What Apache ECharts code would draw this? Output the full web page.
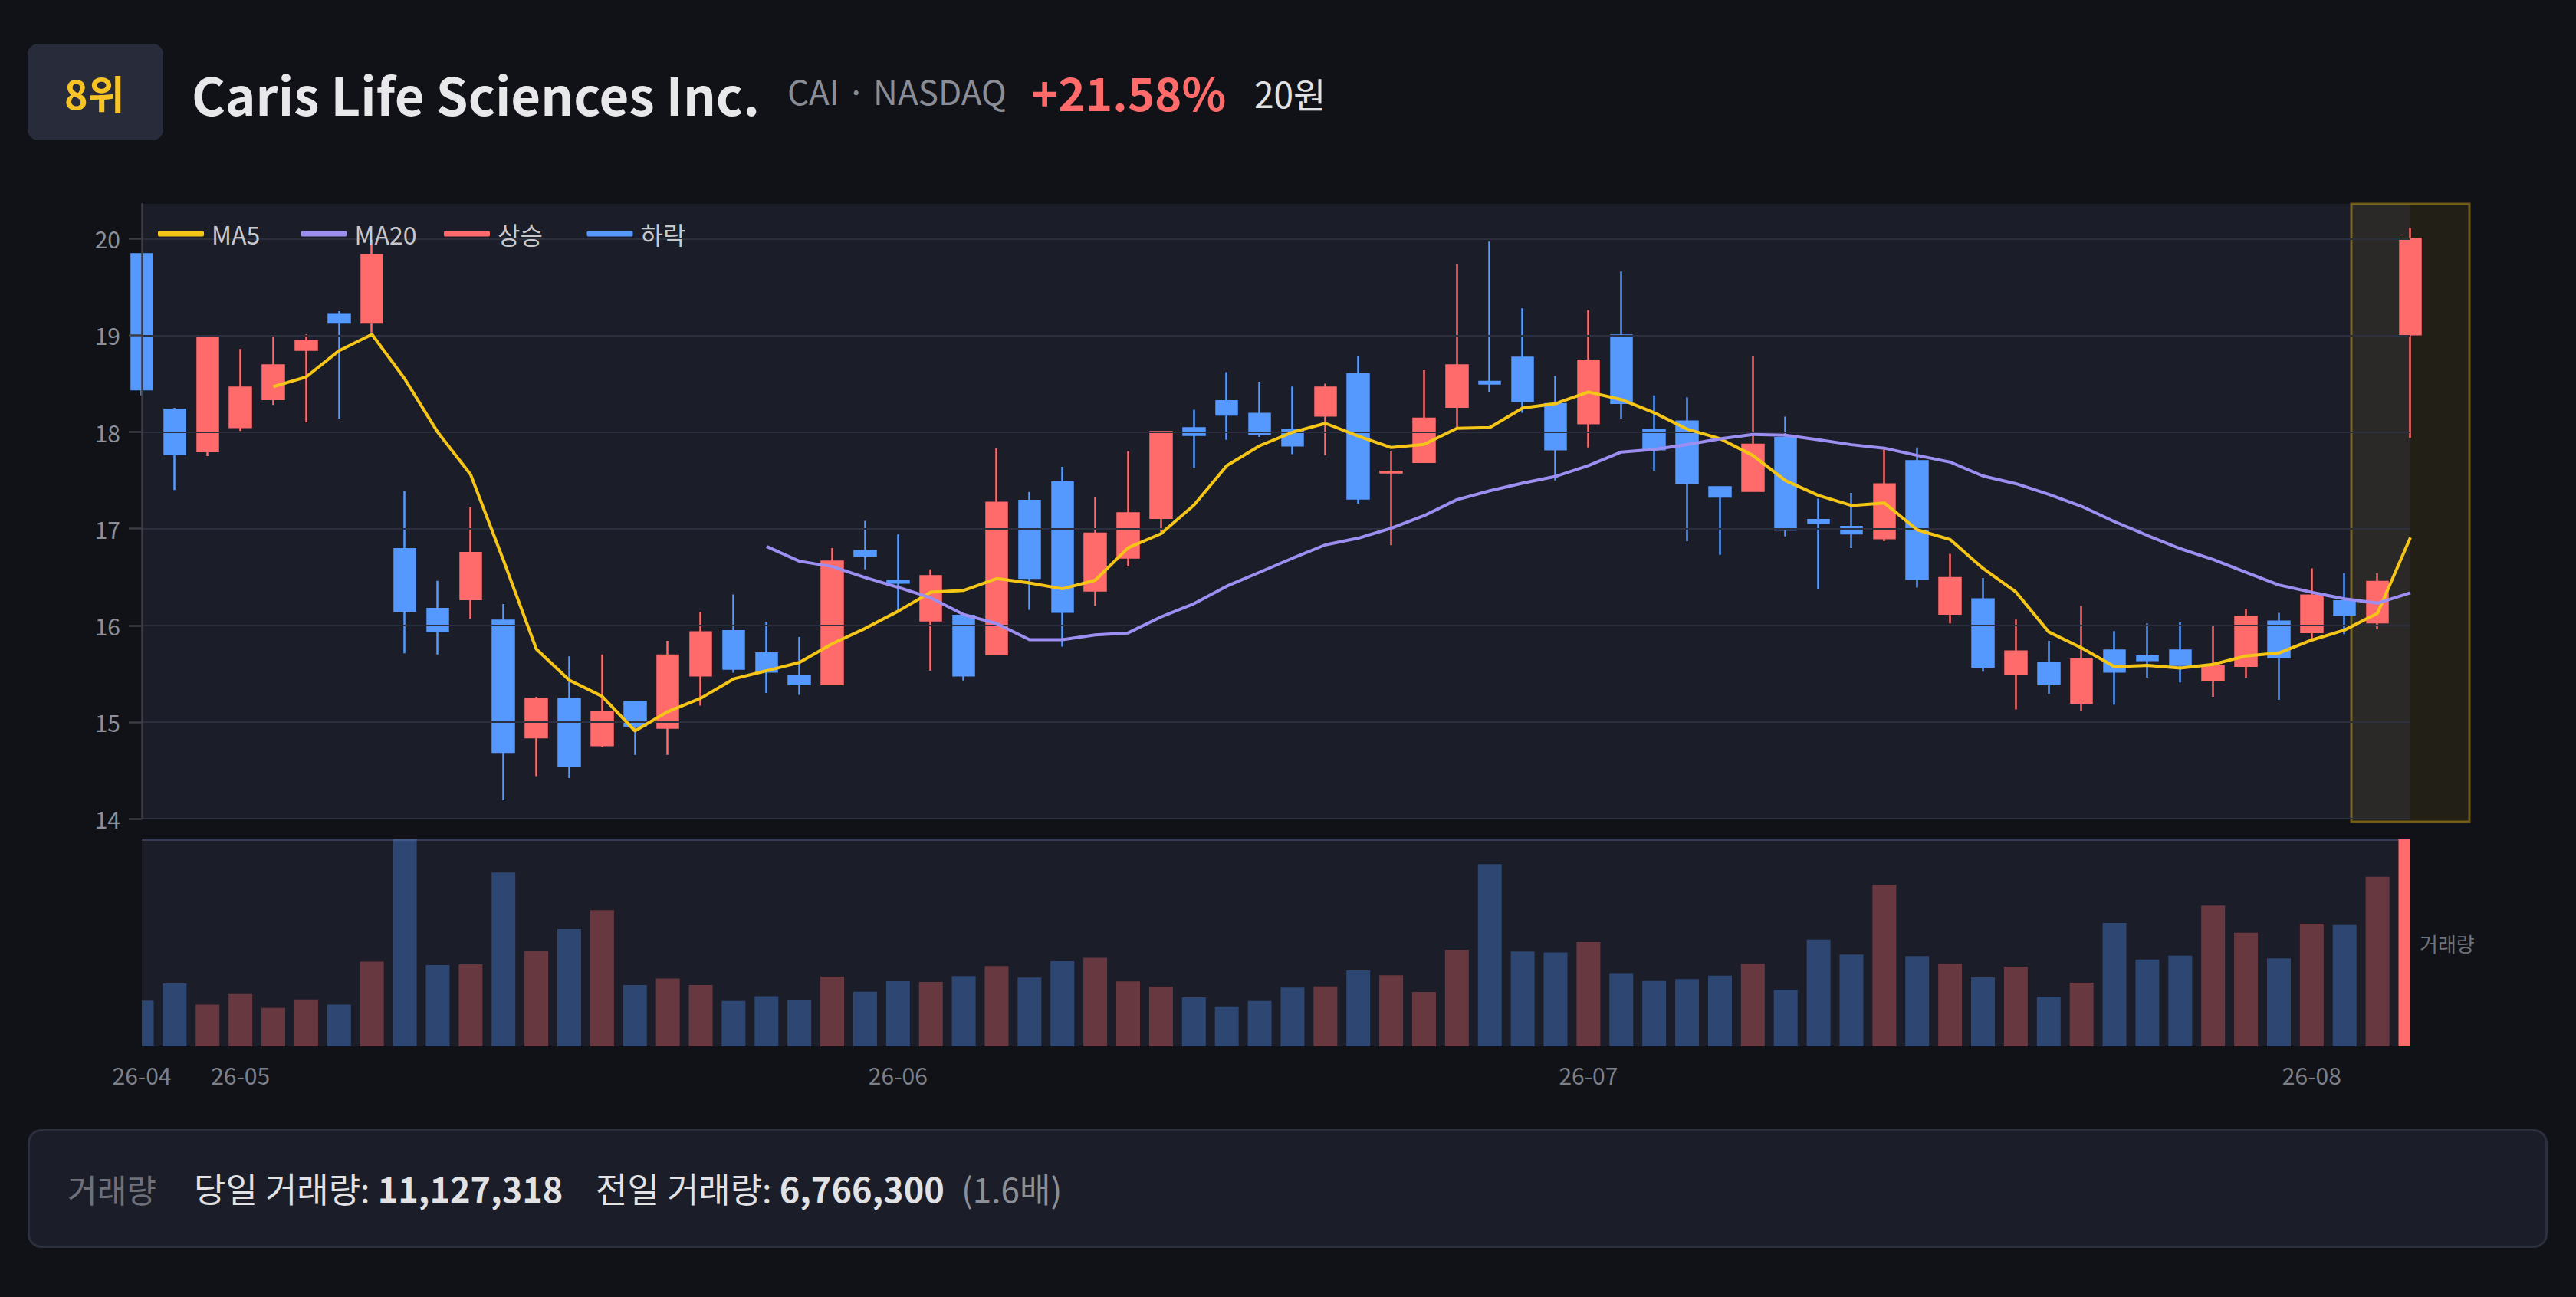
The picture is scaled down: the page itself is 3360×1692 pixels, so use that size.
<!DOCTYPE html>
<html><head><meta charset="utf-8">
<script src="https://cdn.jsdelivr.net/npm/echarts@6/dist/echarts.min.js"></script>
<style>
html,body{margin:0;padding:0;background:#111217;width:3360px;height:1692px;overflow:hidden;font-family:"Noto Sans CJK KR","Noto Sans",sans-serif;}
#chart{position:absolute;left:0;top:0;width:3360px;height:1692px;}
.abs{position:absolute;white-space:nowrap;line-height:1;}
#badge{position:absolute;left:36px;top:57px;width:177px;height:126px;background:#282c3a;border-radius:14px;}
#footer{position:absolute;left:36px;top:1473px;width:3287px;height:155px;box-sizing:border-box;border:3px solid #2c2f3d;border-radius:18px;background:#1b1d29;}
b{font-weight:700;}
</style></head>
<body>
<div id="chart"></div>
<div id="badge"></div>
<div class="abs" style="left:84px;top:95px;font-size:52px;font-weight:700;color:#f7c325;">8위</div>
<div class="abs" style="left:250px;top:88px;font-size:67px;font-weight:700;color:#e8e8ea;">Caris Life Sciences Inc.</div>
<div class="abs" style="left:1027px;top:96px;font-size:44px;color:#8a8d96;">CAI · NASDAQ</div>
<div class="abs" style="left:1345px;top:89px;font-size:60px;font-weight:700;color:#ff6b6b;">+21.58%</div>
<div class="abs" style="left:1636px;top:98px;font-size:46px;color:#e2e2e4;">20원</div>
<div id="footer"></div>
<div class="abs" id="f1" style="left:88px;top:1530px;font-size:42px;color:#6e7079;">거래량</div>
<div class="abs" id="f2" style="left:253px;top:1527px;font-size:45px;color:#e2e2e4;"></div>
<div class="abs" id="f3" style="left:777px;top:1527px;font-size:45px;color:#e2e2e4;"></div>
<div class="abs" id="f4" style="left:1254px;top:1528px;font-size:44px;color:#8d8f96;"></div>
<script>
const dates = ['2026-04-28','2026-04-29','2026-04-30','2026-05-01','2026-05-04','2026-05-05','2026-05-06','2026-05-07','2026-05-08','2026-05-11','2026-05-12','2026-05-13','2026-05-14','2026-05-15','2026-05-18','2026-05-19','2026-05-20','2026-05-21','2026-05-22','2026-05-26','2026-05-27','2026-05-28','2026-05-29','2026-06-01','2026-06-02','2026-06-03','2026-06-04','2026-06-05','2026-06-08','2026-06-09','2026-06-10','2026-06-11','2026-06-12','2026-06-15','2026-06-16','2026-06-17','2026-06-18','2026-06-22','2026-06-23','2026-06-24','2026-06-25','2026-06-26','2026-06-29','2026-06-30','2026-07-01','2026-07-02','2026-07-06','2026-07-07','2026-07-08','2026-07-09','2026-07-10','2026-07-13','2026-07-14','2026-07-15','2026-07-16','2026-07-17','2026-07-20','2026-07-21','2026-07-22','2026-07-23','2026-07-24','2026-07-27','2026-07-28','2026-07-29','2026-07-30','2026-07-31','2026-08-03','2026-08-04','2026-08-05','2026-08-06'];
const openP  = [19.84,18.23,17.80,18.05,18.34,18.85,19.22,19.13,16.79,16.17,16.27,16.05,14.84,15.24,14.76,15.21,14.94,15.48,15.94,15.71,15.48,15.39,16.77,16.46,16.05,16.10,15.70,17.29,17.48,16.36,16.70,17.11,18.04,18.32,18.19,18.02,18.17,18.60,17.58,17.69,18.26,18.52,18.77,18.29,18.09,19.00,18.02,18.11,17.43,17.39,17.94,17.09,17.02,16.90,17.70,16.12,16.27,15.50,15.61,15.20,15.74,15.68,15.74,15.43,15.58,16.04,15.93,16.25,16.03,19.01];
const closeP = [18.44,17.77,18.99,18.46,18.69,18.94,19.13,19.83,16.15,15.94,16.75,14.69,15.24,14.55,15.10,14.96,15.69,15.93,15.55,15.52,15.39,16.66,16.72,16.44,16.51,15.48,17.27,16.49,16.14,16.95,17.16,18.00,17.97,18.18,17.98,17.86,18.46,17.31,17.59,18.14,18.69,18.50,18.32,17.82,18.74,18.30,17.82,17.47,17.33,17.87,16.99,17.06,16.95,17.46,16.48,16.49,15.57,15.73,15.39,15.65,15.52,15.64,15.59,15.58,16.09,15.67,16.31,16.11,16.45,20.00];
const lowP   = [18.38,17.40,17.75,18.01,18.28,18.10,18.14,19.03,15.71,15.70,16.07,14.19,14.44,14.42,14.74,14.66,14.66,15.17,15.51,15.30,15.28,15.39,16.58,16.15,15.53,15.43,15.70,16.16,15.78,16.20,16.61,16.96,17.63,17.92,17.95,17.77,17.76,17.26,16.83,17.69,18.05,18.41,18.20,17.50,17.84,18.14,17.60,16.87,16.73,17.38,16.92,16.38,16.80,16.87,16.39,16.02,15.52,15.13,15.29,15.11,15.18,15.46,15.41,15.26,15.46,15.23,15.86,15.91,15.96,17.94];
const highP  = [19.85,18.25,19.00,18.86,18.99,19.01,19.25,20.00,17.39,16.46,17.22,16.22,15.26,15.68,15.70,15.21,15.84,16.14,16.32,16.03,15.88,16.80,17.08,16.94,16.58,16.10,17.83,17.38,17.64,17.33,17.80,18.00,18.23,18.62,18.52,18.47,18.50,18.79,17.80,18.64,19.74,19.97,19.28,18.58,19.26,19.66,18.38,18.36,17.43,18.79,18.16,17.31,17.37,17.82,17.84,16.74,16.49,16.06,15.84,16.20,15.94,16.02,16.03,16.00,16.17,16.13,16.59,16.54,16.54,20.11];
const volumes = [1825000,2511000,1669000,2090000,1536000,1875000,1669000,3378000,8260000,3246000,3271000,6938000,3816000,4683000,5435000,2445000,2709000,2445000,1809000,2007000,1867000,2784000,2181000,2602000,2569000,2808000,3205000,2742000,3395000,3535000,2594000,2379000,1958000,1569000,1809000,2346000,2395000,3031000,2841000,2172000,3857000,7277000,3783000,3750000,4163000,2924000,2610000,2685000,2825000,3296000,2263000,4262000,3667000,6451000,3601000,3296000,2751000,3180000,1991000,2536000,4923000,3461000,3618000,5625000,4535000,3511000,4898000,4840000,6766300,11127318];
const priceTicks = [14, 20];   // y axis min / last labelled tick
const PRICE_MAX = 20.36;
const VOL_MAX = 8260000;
const legendNames = ['MA5','MA20','상승','하락'];

const UP = '#ff6b6b', DOWN = '#5599ff', MA5C = '#f5c518', MA20C = '#9d8ef2';
const FONT = '"Noto Sans CJK KR","Noto Sans",sans-serif';
const PAGE_BG = '#111217';
const last = closeP.length - 1;

document.getElementById('f2').innerHTML = '당일 거래량: <b>' + volumes[last].toLocaleString('en-US') + '</b>';
document.getElementById('f3').innerHTML = '전일 거래량: <b>' + volumes[last-1].toLocaleString('en-US') + '</b>';
document.getElementById('f4').textContent = '(' + (volumes[last]/volumes[last-1]).toFixed(1) + '배)';

const candleData = dates.map((d,i)=>[openP[i], closeP[i], lowP[i], highP[i]]);
function ma(n){
  return closeP.map((c,i)=>{
    if(i < n-1) return '-';
    let s = 0; for(let k=i-n+1;k<=i;k++) s += closeP[k];
    return +(s/n).toFixed(4);
  });
}
const volData = volumes.map((v,i)=>{
  const up = closeP[i] >= openP[i];
  let c = up ? 'rgba(255,107,107,0.34)' : 'rgba(85,153,255,0.34)';
  if(i === last) c = UP;
  return {value:v, itemStyle:{color:c}};
});

const chart = echarts.init(document.getElementById('chart'), null, {renderer:'svg', width:3360, height:1692});
const axisGray = '#3b3d46';
const gridColors = ['#2c2f3d','#2c2f3d','#2c2f3d','#2c2f3d','#2c2f3d','#2c2f3d','#2c2f3d','rgba(0,0,0,0)'];
chart.setOption({
  animation:false,
  backgroundColor:'transparent',
  textStyle:{fontFamily:FONT},
  legend:{
    left:206, top:285, padding:0, icon:'roundRect', itemWidth:60, itemHeight:7, itemGap:6.5,
    textStyle:{color:'#c8c8cc', fontSize:32, width:110, padding:[0,0,0,5], lineHeight:40, fontFamily:FONT},
    data:legendNames
  },
  grid:[
    {left:185, right:216, top:266, height:802, show:true, backgroundColor:'#1b1d29', borderWidth:0},
    {left:185, right:216, top:1095, height:270, show:true, backgroundColor:'#1b1d29', borderWidth:0}
  ],
  xAxis:[
    {type:'category', gridIndex:0, data:dates, boundaryGap:false,
     axisLine:{show:false}, axisTick:{show:false}, axisLabel:{show:false}, splitLine:{show:false}},
    {type:'category', gridIndex:1, data:dates, boundaryGap:false, position:'bottom',
     axisLine:{show:false}, axisTick:{show:false}, splitLine:{show:false},
     axisLabel:{show:true, color:'#7d8089', fontSize:30, margin:22, fontFamily:FONT,
       interval:function(idx, val){ return idx===0 || dates[idx].slice(0,7)!==dates[idx-1].slice(0,7); },
       formatter:function(val){ return val.slice(2,7); }}},
    {type:'category', gridIndex:1, data:dates, boundaryGap:false, position:'top',
     axisLine:{show:true, lineStyle:{color:'#363a52', width:3}}, axisTick:{show:false}, axisLabel:{show:false}, splitLine:{show:false}}
  ],
  yAxis:[
    {type:'value', gridIndex:0, min:priceTicks[0], max:PRICE_MAX, interval:1, z:3,
     axisLine:{show:true, lineStyle:{color:axisGray, width:2.5}},
     axisTick:{show:true, length:17, lineStyle:{color:axisGray, width:2.5}},
     axisLabel:{color:'#8d909a', fontSize:30, margin:28, showMaxLabel:false, fontFamily:FONT,
       formatter:function(v){ return v > priceTicks[1] ? '' : String(v); }},
     splitLine:{show:true, lineStyle:{color:gridColors, width:2}}},
    {type:'value', gridIndex:1, min:0, max:VOL_MAX, position:'right', z:8,
     axisLine:{show:false}, axisTick:{show:false}, axisLabel:{show:false}, splitLine:{show:false},
     name:'거래량', nameLocation:'middle', nameRotate:0, nameGap:12,
     nameTextStyle:{color:'#6f727b', fontSize:26, align:'left', verticalAlign:'middle', fontFamily:FONT}}
  ],
  series:[
    {type:'candlestick', name:'가격', xAxisIndex:0, yAxisIndex:0, data:candleData, barWidth:28,
     itemStyle:{color:UP, color0:DOWN, borderColor:UP, borderColor0:DOWN, borderWidth:2.5}},
    {type:'line', name:'MA5', xAxisIndex:0, yAxisIndex:0, data:ma(5), showSymbol:false, smooth:false,
     itemStyle:{color:MA5C}, lineStyle:{color:MA5C, width:4}},
    {type:'line', name:'MA20', xAxisIndex:0, yAxisIndex:0, data:ma(20), showSymbol:false, smooth:false,
     itemStyle:{color:MA20C}, lineStyle:{color:MA20C, width:4}},
    {type:'line', name:'상승', xAxisIndex:0, yAxisIndex:0, data:[], itemStyle:{color:UP}, lineStyle:{color:UP}},
    {type:'line', name:'하락', xAxisIndex:0, yAxisIndex:0, data:[], itemStyle:{color:DOWN}, lineStyle:{color:DOWN}},
    {type:'bar', name:'거래량', xAxisIndex:1, yAxisIndex:1, data:volData, barWidth:31, clip:true}
  ]
});
// highlight box around the latest candle + clip masks for the volume panel edges
const xFirst = chart.convertToPixel({xAxisIndex:1}, 0);
const xLast = chart.convertToPixel({xAxisIndex:0}, last);
const xLastV = chart.convertToPixel({xAxisIndex:1}, last);
const yTop = chart.convertToPixel({yAxisIndex:0}, PRICE_MAX);
const yBot = chart.convertToPixel({yAxisIndex:0}, priceTicks[0]);
const vTop = chart.convertToPixel({yAxisIndex:1}, VOL_MAX);
const vBot = chart.convertToPixel({yAxisIndex:1}, 0);
chart.setOption({graphic:[
  {type:'rect', z:1, silent:true,
   shape:{x:xLast-77, y:yTop, width:154, height:yBot-yTop+4},
   style:{fill:'rgba(245,197,24,0.08)', stroke:'rgba(245,197,24,0.4)', lineWidth:3}},
  {type:'rect', z:5, silent:true, shape:{x:xFirst-30, y:vTop-1, width:30, height:vBot-vTop+2}, style:{fill:PAGE_BG}},
  {type:'rect', z:5, silent:true, shape:{x:xLastV, y:vTop-1, width:17, height:vBot-vTop+2}, style:{fill:PAGE_BG}}
]});
</script>
</body></html>
